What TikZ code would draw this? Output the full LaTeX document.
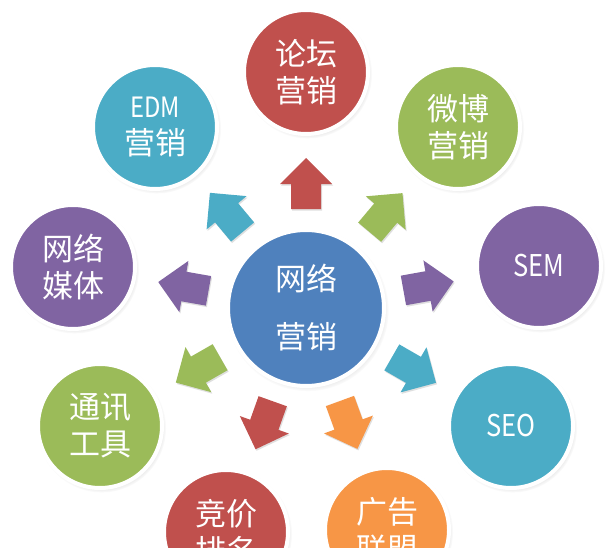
\documentclass[tikz,border=0pt]{standalone}
\usepackage{fontspec}
\setmainfont{Noto Sans CJK SC}
\usepackage{graphicx}
\usetikzlibrary{calc,shadows}
\definecolor{cblue}{HTML}{4F81BD}
\definecolor{cred}{HTML}{C0504D}
\definecolor{cgreen}{HTML}{9BBB59}
\definecolor{cpurple}{HTML}{8064A2}
\definecolor{cteal}{HTML}{4BACC6}
\definecolor{corange}{HTML}{F79646}
\newcommand\latw[1]{\scalebox{0.85}[1]{#1}}
\tikzset{
  bubble/.style={circle, draw=white, line width=4pt, minimum size=124pt, inner sep=0pt,
    text=white, font=\fontsize{31}{37}\selectfont, align=center,
    circular drop shadow={shadow xshift=1.5pt, shadow yshift=-2pt, shadow scale=1.04, opacity=0.35}},
  hubbubble/.style={bubble, minimum size=156pt, font=\fontsize{31}{58}\selectfont},
  blockarr/.pic={\fill[#1, drop shadow={shadow xshift=1pt, shadow yshift=-1.5pt, opacity=0.25}]
    (-25,-15) -- (0,-15) -- (0,-26) -- (26,0) -- (0,26) -- (0,15) -- (-25,15) -- cycle;}
}
\begin{document}
\begin{tikzpicture}[x=1pt, y=-1pt]
\fill[white] (0,0) rectangle (615,548);
\useasboundingbox (0,0) rectangle (615,548);
\node[hubbubble, fill=cblue] (hub) at (306,308) {网络\\营销};
\node[bubble, fill=cred]    (lt)  at (306,72)  {论坛\\营销};
\node[bubble, fill=cteal]   (edm) at (155,127) {{\fontsize{28}{37}\selectfont\latw{EDM}}\\营销};
\node[bubble, fill=cgreen]  (wb)  at (458,127) {微博\\营销};
\node[bubble, fill=cpurple] (mt)  at (73,267)  {网络\\媒体};
\node[bubble, fill=cpurple] (sem) at (539,266) {{\fontsize{30}{37}\selectfont\latw{SEM}}};
\node[bubble, fill=cgreen]  (tx)  at (100,426) {通讯\\工具};
\node[bubble, fill=cteal]   (seo) at (511,426) {{\fontsize{30}{37}\selectfont\latw{SEO}}};
\node[bubble, fill=cred]    (jj)  at (226,532) {竞价\\排名};
\node[bubble, fill=corange] (gg)  at (387,530) {广告\\联盟};
\foreach \t/\col in {lt/cred, edm/cteal, wb/cgreen, mt/cpurple, sem/cpurple, tx/cgreen, seo/cteal, jj/cred, gg/corange}
  \path let \p1=($(\t)-(hub)$), \n1={atan2(\y1,\x1)} in
    pic[rotate=\n1] at ($(hub)!124pt!(\t)$) {blockarr=\col};
\end{tikzpicture}
\end{document}
